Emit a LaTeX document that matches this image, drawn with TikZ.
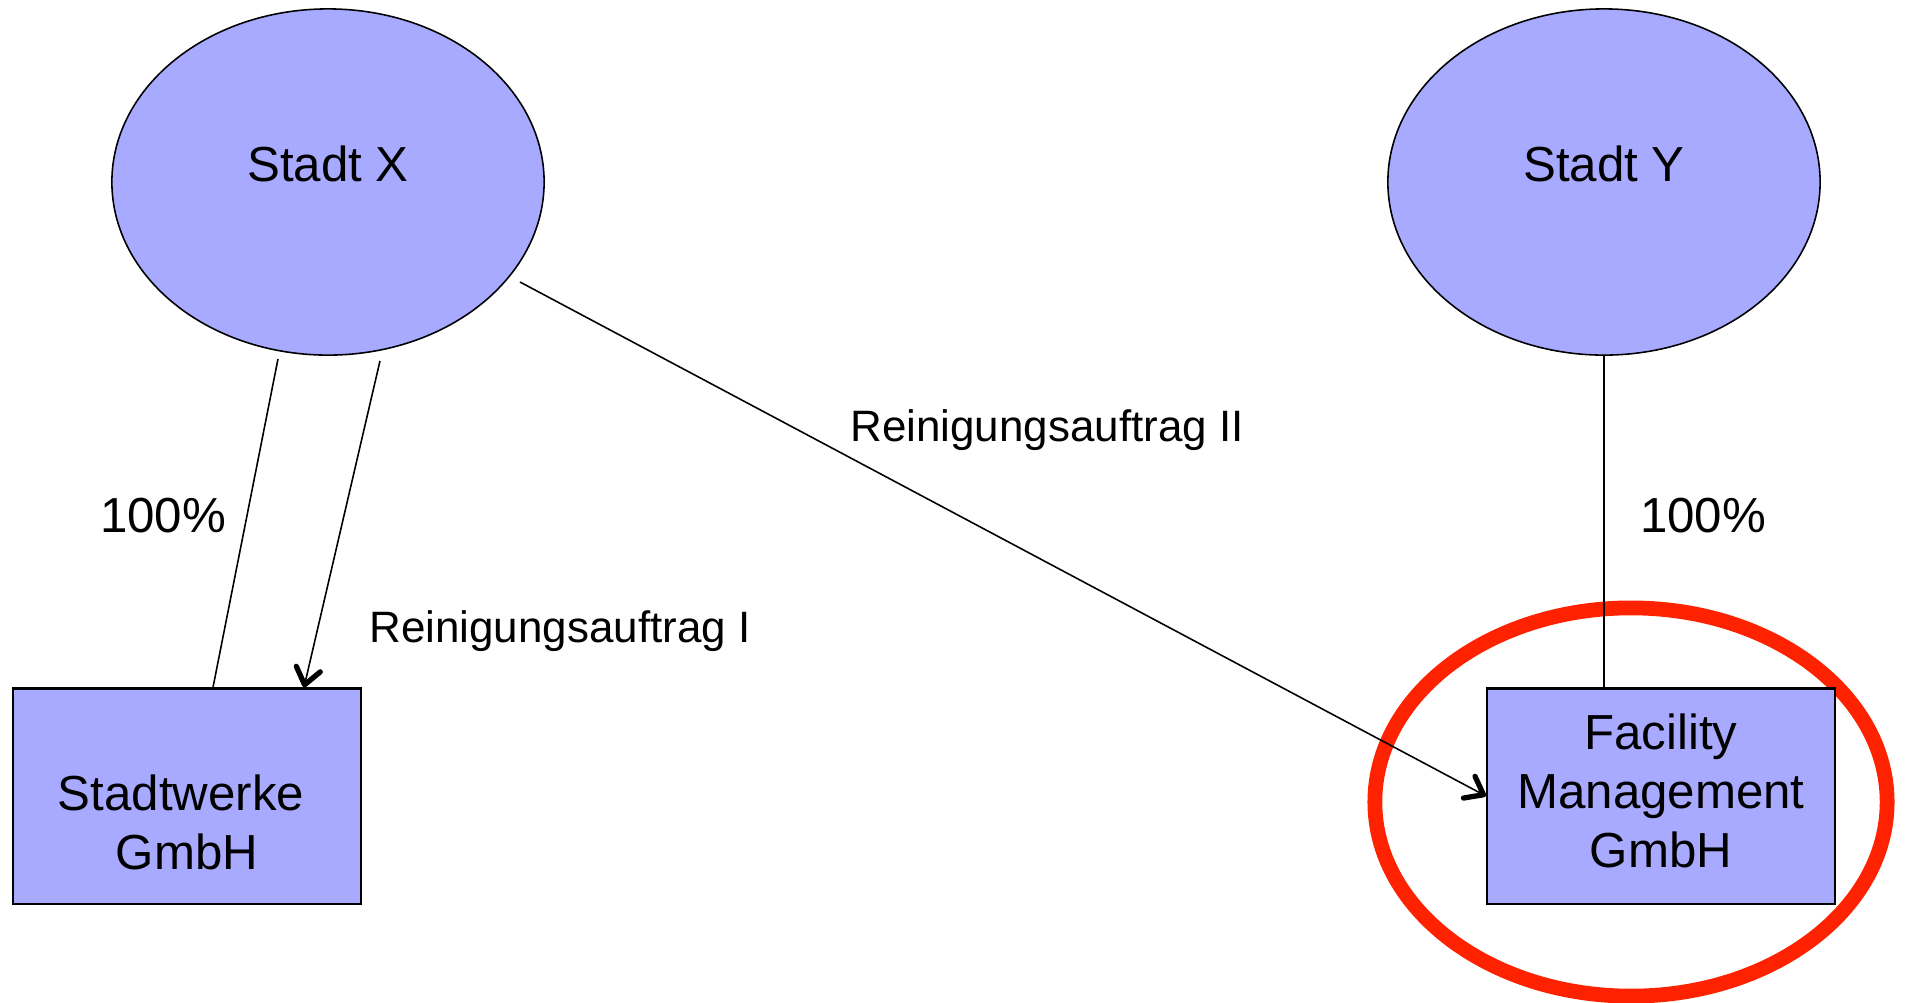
\documentclass[tikz,border=0pt]{standalone}
\usepackage{fontspec}
\setmainfont{Liberation Sans}
\usetikzlibrary{arrows.meta,shapes.geometric,calc}
\definecolor{entity}{RGB}{168,170,255}
\definecolor{mark}{RGB}{255,34,0}
\tikzset{
  every node/.style={font=\fontsize{14}{16.8}\selectfont, inner sep=0pt},
  city/.style={ellipse, draw=black, line width=0.45pt, fill=entity,
    minimum width=4.32cm, minimum height=3.46cm},
  company/.style={rectangle, draw=black, line width=0.6pt, fill=entity,
    minimum width=3.48cm, minimum height=2.15cm, align=center},
  ring/.style={ellipse, draw=mark, line width=4.2pt,
    minimum width=5.12cm, minimum height=3.88cm},
  link/.style={draw=black, line width=0.45pt},
  order/.style={link, -{Straight Barb[length=4.6pt, width=7pt, line width=1.5pt, round]}},
  share/.style={anchor=center},
  contract/.style={anchor=center, font=\fontsize{12.5}{15}\selectfont}
}
\begin{document}
\begin{tikzpicture}[x=0.01cm, y=-0.01cm]
  \useasboundingbox (0,0) rectangle (1905,1002);

  % highlight ring round the service company
  \node[ring] (hl) at (1631,802) {};

  % cities
  \node[city, label={[yshift=0.18cm]center:Stadt X}] (sx) at (328,182) {};
  \node[city, label={[yshift=0.18cm]center:Stadt Y}] (sy) at (1604,182) {};

  % municipal companies
  \node[company, label={[yshift=-0.26cm, xshift=-0.06cm, align=center]center:Stadtwerke\\\hspace{0.12cm}GmbH}] (sw) at (187,796) {};
  \node[company, label={[yshift=0.05cm, align=center]center:Facility\\Management\\GmbH}] (fm) at (1661,796) {};

  % ownership links
  \draw[link] ($(sx.south)+(-50,3)$) -- ($(sw.north)+(26,0)$);
  \draw[link] (sy.south) -- (sy.south |- fm.north);

  % cleaning contracts
  \draw[order] ($(sx.south)+(52,5)$) -- ($(sw.north)+(117,0)$);
  \draw[order] ($(sx.center)+(192,100)$) -- (fm.west);

  % labels
  \node[share] (p1) at (163,516) {100\%};
  \node[share] (p2) at (1703,516) {100\%};
  \node[contract] (r1) at (560,631) {Reinigungsauftrag I};
  \node[contract] (r2) at (1047,430) {Reinigungsauftrag II};
\end{tikzpicture}
\end{document}
